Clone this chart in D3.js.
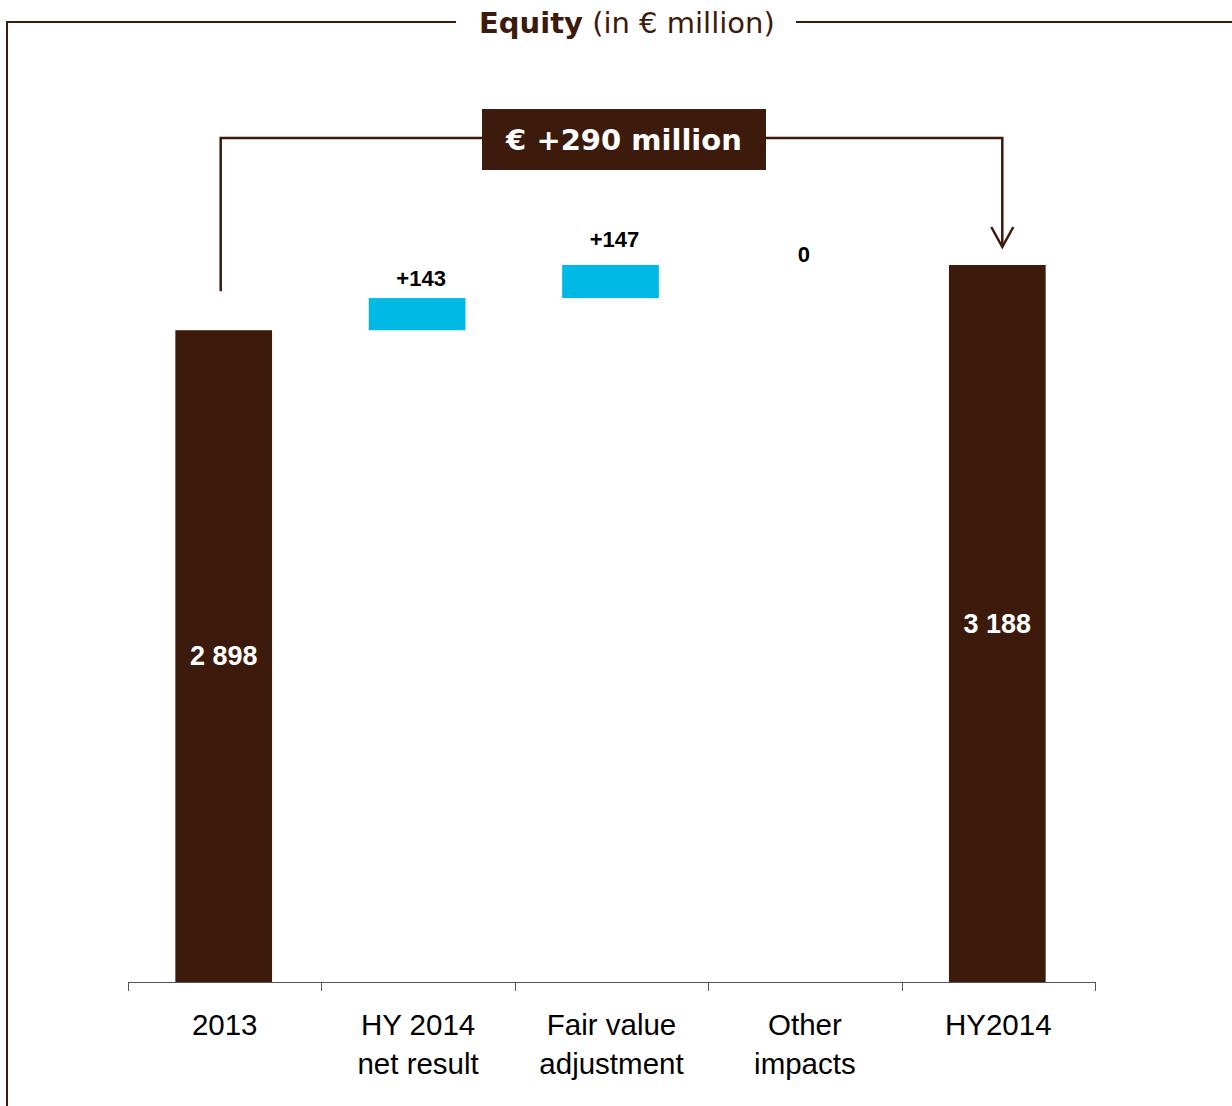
<!DOCTYPE html>
<html>
<head>
<meta charset="utf-8">
<script src="https://cdn.jsdelivr.net/npm/d3@7"></script>
<style>
  html, body { margin: 0; padding: 0; background: #fff; }
  svg { display: block; }
</style>
</head>
<body>
<svg id="chart" width="1232" height="1106"></svg>
<script>
// Equity bridge: 2013 closing equity to HY2014
const categories = ["2013", "HY 2014\nnet result", "Fair value\nadjustment", "Other\nimpacts", "HY2014"];
const values = [2898, 143, 147, 0, 3188];
const kinds = ["total", "delta", "delta", "delta", "total"];
const changeLabel = "€ +290 million";

const brown = "#3c1a0c";
const blue = "#00b9e4";

const svg = d3.select("#chart");

// Waterfall segments: totals start at zero, deltas stack on a running sum
let running = 0;
const segs = values.map((v, i) => {
  let lo, hi;
  if (kinds[i] === "total") { lo = 0; hi = v; running = v; }
  else { lo = running; hi = running + v; running = hi; }
  return { cat: categories[i], value: v, kind: kinds[i], lo, hi };
});

const x = d3.scaleBand().domain(categories).range([128, 1095]).paddingInner(0.5).paddingOuter(0.25);
const y = d3.scaleLinear().domain([0, 3188]).range([982, 265]);

// Frame around the panel with the title set into the top rule
svg.append("path")
  .attr("d", "M7,1106 V22 H456 M796,22 H1232")
  .attr("fill", "none").attr("stroke", brown).attr("stroke-width", 2);

const title = svg.append("text")
  .attr("x", 479).attr("y", 33)
  .attr("font-family", "DejaVu Sans, Verdana, sans-serif")
  .attr("font-size", 29).attr("fill", brown);
title.append("tspan").attr("font-weight", "bold").text("Equity");
title.append("tspan").text(" (in € million)");

// Bars
svg.selectAll("rect.bar").data(segs).join("rect")
  .attr("class", "bar")
  .attr("x", d => x(d.cat) - 1)
  .attr("width", x.bandwidth())
  .attr("y", d => y(d.hi))
  .attr("height", d => Math.max(0, y(d.lo) - y(d.hi)))
  .attr("fill", d => d.kind === "total" ? brown : blue);

// Value labels: totals inside the bar, changes above
const fmt = d3.formatLocale({ decimal: ".", thousands: " ", grouping: [3], currency: ["", ""] }).format(",");
const lift = [0, 12, 18, 3, 0];
svg.selectAll("text.val").data(segs).join("text")
  .attr("class", "val")
  .attr("x", d => x(d.cat) + x.bandwidth() / 2 + (d.kind === "delta" && d.value !== 0 ? 3 : -1))
  .attr("y", (d, i) => d.kind === "total" ? (y(d.hi) + y(0)) / 2 + 9 : y(d.hi) - lift[i])
  .attr("text-anchor", "middle")
  .attr("font-family", "Liberation Sans, Arial, sans-serif")
  .attr("font-weight", "bold")
  .attr("font-size", d => d.kind === "total" ? 27 : 22)
  .attr("fill", d => d.kind === "total" ? "#fff" : "#000")
  .text(d => d.kind === "total" ? fmt(d.value) : (d.value > 0 ? "+" + fmt(d.value) : fmt(d.value)));

// Category axis with ticks on band boundaries
const axisG = svg.append("g");
axisG.append("line")
  .attr("x1", x.range()[0]).attr("x2", x.range()[1])
  .attr("y1", y(0) + 0.5).attr("y2", y(0) + 0.5)
  .attr("stroke", "#555").attr("stroke-width", 1);
const bounds = [x.range()[0]].concat(categories.map(c => x(c) + x.bandwidth() + (x.step() - x.bandwidth()) / 2));
bounds[bounds.length - 1] = x.range()[1];
axisG.selectAll("line.tick").data(bounds).join("line")
  .attr("class", "tick")
  .attr("x1", d => Math.round(d) + 0.5).attr("x2", d => Math.round(d) + 0.5)
  .attr("y1", y(0)).attr("y2", y(0) + 9)
  .attr("stroke", "#555").attr("stroke-width", 1);

const catText = svg.selectAll("text.cat").data(categories).join("text")
  .attr("class", "cat")
  .attr("x", d => x(d) + x.bandwidth() / 2)
  .attr("y", 1035)
  .attr("text-anchor", "middle")
  .attr("font-family", "Liberation Sans, Arial, sans-serif")
  .attr("font-size", 29.5)
  .attr("fill", "#000");
catText.each(function (d) {
  const t = d3.select(this);
  d.split("\n").forEach((line, k) => {
    t.append("tspan").attr("x", x(d) + x.bandwidth() / 2).attr("dy", k === 0 ? 0 : 39).text(line);
  });
});

// Bracket from the first total to the last, with the overall change
const first = segs[0], last = segs[segs.length - 1];
const xa = x(first.cat) + x.bandwidth() / 2 - 4;
const xb = x(last.cat) + x.bandwidth() / 2 + 4;
const yTop = 138;
svg.append("path")
  .attr("d", `M${xa},${y(first.hi) - 39} V${yTop} H${xb} V${y(last.hi) - 18}`)
  .attr("fill", "none").attr("stroke", brown).attr("stroke-width", 2.5);
svg.append("path")
  .attr("d", `M${xb - 11},${y(last.hi) - 38} L${xb},${y(last.hi) - 18} L${xb + 11},${y(last.hi) - 38}`)
  .attr("fill", "none").attr("stroke", brown).attr("stroke-width", 2.5);

svg.append("rect")
  .attr("x", 482).attr("y", 109).attr("width", 284).attr("height", 61)
  .attr("fill", brown);
svg.append("text")
  .attr("x", 624).attr("y", 150)
  .attr("text-anchor", "middle")
  .attr("font-family", "DejaVu Sans, Verdana, sans-serif")
  .attr("font-weight", "bold")
  .attr("font-size", 29)
  .attr("fill", "#fff")
  .text(changeLabel);
</script>
</body>
</html>
